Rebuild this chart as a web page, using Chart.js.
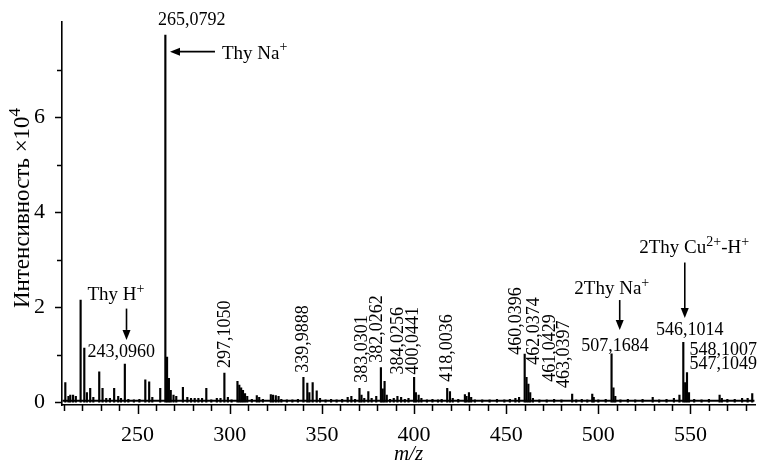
<!DOCTYPE html>
<html lang="ru">
<head>
<meta charset="UTF-8">
<title>Масс-спектр Thy</title>
<script src="https://cdn.jsdelivr.net/npm/chart.js"></script>
<style>
  body{margin:0;background:#fff}
  #wrap{width:760px;height:463px;position:relative}
</style>
</head>
<body>
<div id="wrap"><canvas id="spec"></canvas></div>
<script>
// peaks: m/z and intensity (x10^4)
const peakMz = [
  210.8,212.5,213.5,215,216.5,219.1,221.1,222.5,224.3,226,229.2,231,233,235,237.3,239.5,241,243.096,245,248,
  251,254.2,256.3,258,262.3,265.0792,266.0,267.0,268,269.5,271,274.6,277,279,281,283,285,287.3,290,293,
  295,297.105,299,301,304.2,305.2,306.2,307.2,308.3,309.5,312,314.7,316,318,322.3,323.5,325,326.5,328,331,
  334,337,339.9888,342.1,343.2,345.0,347.2,349,352,355,358,361,364,366,368,370.4,371.5,373,375.2,377,
  379.5,382.0262,383.0301,384.0256,385.2,387,389,391,393,395,397,400.0441,401,402.5,404,407,410,413,415,418.0036,
  419.5,421,424,427.6,428.5,429.8,431,433,437,441,445,449,452,455,457,460.0396,461.0429,462.0374,463.0397,464.5,
  468,472,476,480,485.8,488,491,494,496.7,497.5,500,504,507.1684,508.2,509.2,512,516,520,524,529.5,
  533,537,541,544,546.1014,547.1049,548.1007,549.2,552,556,560,565.8,567,570,574,578,581,583.5
];
const peakInt = [
  0.41,0.12,0.15,0.15,0.12,2.15,1.14,0.2,0.29,0.1,0.64,0.29,0.08,0.08,0.29,0.12,0.08,0.80,0.06,0.05,
  0.06,0.47,0.43,0.1,0.29,7.73,0.95,0.5,0.25,0.15,0.12,0.31,0.1,0.08,0.08,0.08,0.08,0.29,0.05,0.08,
  0.08,0.61,0.1,0.05,0.44,0.36,0.3,0.25,0.18,0.12,0.06,0.14,0.1,0.06,0.16,0.15,0.14,0.12,0.06,0.05,
  0.05,0.06,0.52,0.4,0.2,0.41,0.24,0.08,0.05,0.06,0.05,0.06,0.1,0.12,0.06,0.29,0.15,0.08,0.22,0.08,
  0.12,0.73,0.28,0.44,0.15,0.06,0.08,0.12,0.1,0.06,0.08,0.52,0.2,0.15,0.08,0.05,0.06,0.05,0.06,0.29,
  0.22,0.08,0.06,0.16,0.12,0.2,0.1,0.05,0.05,0.05,0.06,0.05,0.06,0.08,0.1,1.01,0.52,0.38,0.2,0.08,
  0.05,0.05,0.06,0.05,0.17,0.05,0.06,0.05,0.17,0.1,0.05,0.06,1.02,0.3,0.12,0.05,0.06,0.05,0.06,0.1,
  0.05,0.06,0.08,0.15,1.26,0.41,0.62,0.2,0.06,0.05,0.06,0.15,0.08,0.06,0.06,0.08,0.08,0.18
];
// noise floor under the peaks
const baseMz = [209.3, 584.7];
const baseInt = [0.03, 0.03];

const xTicks = [210,220,230,240,250,260,270,280,290,300,310,320,330,340,350,360,370,380,390,400,
                410,420,430,440,450,460,470,480,490,500,510,520,530,540,550,560,570,580];
const xLabels = [250,300,350,400,450,500,550];
const yTicks = [0,1,2,3,4,5,6,7];
const yLabels = [0,2,4,6];

const FONT = '"Liberation Serif","Times New Roman",serif';

// text placed in data coordinates (m/z, intensity)
const notes = [
  {text:'265,0792', x:279.4, y:8.04, align:'center', size:18},
  {text:'Thy Na^{+}', x:295.8, y:7.34, align:'left', size:19},
  {text:'Thy H^{+}', x:238.3, y:2.25, align:'center', size:19},
  {text:'243,0960', x:241.1, y:1.04, align:'center', size:18},
  {text:'2Thy Na^{+}', x:507.3, y:2.38, align:'center', size:19},
  {text:'507,1684', x:509.0, y:1.18, align:'center', size:18},
  {text:'2Thy Cu^{2+}-H^{+}', x:552.0, y:3.24, align:'center', size:19},
  {text:'546,1014', x:549.6, y:1.52, align:'center', size:18},
  {text:'548,1007', x:549.5, y:1.10, align:'left', size:18},
  {text:'547,1049', x:549.5, y:0.79, align:'left', size:18},
  {text:'297,1050', x:297.7, y:0.72, rot:true, size:18},
  {text:'339,9888', x:339.8, y:0.62, rot:true, size:18},
  {text:'383,0301', x:371.7, y:0.41, rot:true, size:18},
  {text:'382,0262', x:379.9, y:0.83, rot:true, size:18},
  {text:'384,0256', x:391.3, y:0.58, rot:true, size:18},
  {text:'400,0441', x:399.4, y:0.58, rot:true, size:18},
  {text:'418,0036', x:418.1, y:0.43, rot:true, size:18},
  {text:'460,0396', x:455.3, y:1.00, rot:true, size:18},
  {text:'462,0374', x:465.0, y:0.79, rot:true, size:18},
  {text:'461,0429', x:473.7, y:0.43, rot:true, size:18},
  {text:'463,0397', x:481.3, y:0.30, rot:true, size:18}
];
const arrows = [
  {x1:292.0, y1:7.38, x2:267.6, y2:7.38},
  {x1:244.0, y1:1.97, x2:244.0, y2:1.31},
  {x1:511.6, y1:2.15, x2:511.6, y2:1.52},
  {x1:546.9, y1:2.94, x2:546.9, y2:1.77}
];

function richParts(s){
  const out=[], re=/\^\{([^}]*)\}/g; let last=0, m;
  while((m=re.exec(s))){
    if(m.index>last) out.push({t:s.slice(last,m.index)});
    out.push({t:m[1],sup:true}); last=re.lastIndex;
  }
  if(last<s.length) out.push({t:s.slice(last)});
  return out;
}
function drawRich(ctx,s,x,y,size,align,italic){
  const parts=richParts(s), sup=Math.round(size*0.72);
  const f=sz=>(italic?'italic ':'')+sz+'px '+FONT;
  let w=0;
  parts.forEach(p=>{ctx.font=f(p.sup?sup:size); p.w=ctx.measureText(p.t).width; w+=p.w;});
  let cx = align==='center' ? x-w/2 : align==='right' ? x-w : x;
  ctx.textAlign='left'; ctx.textBaseline='middle';
  parts.forEach(p=>{
    ctx.font=f(p.sup?sup:size);
    ctx.fillText(p.t, cx, p.sup ? y-size*0.33 : y);
    cx+=p.w;
  });
}
function arrow(ctx,x1,y1,x2,y2){
  const a=Math.atan2(y2-y1,x2-x1), L=10, W=4;
  const bx=x2-L*Math.cos(a), by=y2-L*Math.sin(a);
  ctx.beginPath(); ctx.moveTo(x1,y1); ctx.lineTo(bx,by); ctx.lineWidth=1.6; ctx.stroke();
  ctx.beginPath(); ctx.moveTo(x2,y2);
  ctx.lineTo(bx+W*Math.sin(a), by-W*Math.cos(a));
  ctx.lineTo(bx-W*Math.sin(a), by+W*Math.cos(a));
  ctx.closePath(); ctx.fill();
}

const decor = {
  id:'decor',
  afterDraw(chart){
    const {ctx, scales:{x,y}, chartArea:ca} = chart;
    ctx.save();
    ctx.strokeStyle='#000'; ctx.fillStyle='#000'; ctx.lineWidth=1.5;
    // tick marks
    ctx.beginPath();
    xTicks.forEach(v=>{
      const px=Math.round(x.getPixelForValue(v))+0.5;
      ctx.moveTo(px, ca.bottom); ctx.lineTo(px, ca.bottom+(xLabels.includes(v)?9:6));
    });
    yTicks.forEach(v=>{
      const py=Math.round(y.getPixelForValue(v))+0.5;
      ctx.moveTo(ca.left, py); ctx.lineTo(ca.left-(yLabels.includes(v)?7:5), py);
    });
    ctx.stroke();
    // labels and arrows
    notes.forEach(n=>{
      const px=x.getPixelForValue(n.x), py=y.getPixelForValue(n.y);
      if(n.rot){
        ctx.save(); ctx.translate(px,py); ctx.rotate(-Math.PI/2);
        drawRich(ctx,n.text,0,0,n.size,'left'); ctx.restore();
      } else drawRich(ctx,n.text,px,py,n.size,n.align);
    });
    arrows.forEach(a=>arrow(ctx,x.getPixelForValue(a.x1),y.getPixelForValue(a.y1),
                               x.getPixelForValue(a.x2),y.getPixelForValue(a.y2)));
    // axis titles
    ctx.save(); ctx.translate(23,208); ctx.rotate(-Math.PI/2);
    drawRich(ctx,'Интенсивность ×10^{4}',0,0,23,'center'); ctx.restore();
    drawRich(ctx,'m/z',(ca.left+ca.right)/2,454,21,'center',true);
    ctx.restore();
  }
};

new Chart(document.getElementById('spec'),{
  type:'bar',
  data:{datasets:[
    {type:'line', data:baseMz.map((m,i)=>({x:m,y:baseInt[i]})), borderColor:'#000', borderWidth:2.2,
     pointRadius:0, fill:false, tension:0},
    {data:peakMz.map((m,i)=>({x:m,y:peakInt[i]})), backgroundColor:'#000', borderWidth:0,
     barThickness:1.5, grouped:false}
  ]},
  options:{
    responsive:true, maintainAspectRatio:false, animation:false, devicePixelRatio:1,
    layout:{padding:{top:21,right:5,left:0,bottom:0}},
    plugins:{legend:{display:false}, tooltip:{enabled:false}},
    scales:{
      x:{type:'linear', min:209, max:585, offset:false,
         grid:{display:false, offset:false},
         border:{display:true, color:'#000', width:1.6},
         afterBuildTicks:s=>{s.ticks=xTicks.map(v=>({value:v}));},
         afterFit:s=>{s.height=58;},
         ticks:{autoSkip:false, maxRotation:0, padding:9, color:'#000',
                font:{family:FONT, size:22},
                callback:v=>xLabels.includes(v)?String(v):''}},
      y:{type:'linear', min:-0.06, max:8,
         grid:{display:false},
         border:{display:true, color:'#000', width:1.6},
         afterBuildTicks:s=>{s.ticks=yTicks.map(v=>({value:v}));},
         afterFit:s=>{s.width=62;},
         ticks:{autoSkip:false, padding:9, color:'#000',
                font:{family:FONT, size:22},
                callback:v=>yLabels.includes(v)?String(v):''}}
    }
  },
  plugins:[decor]
});
</script>
</body>
</html>
